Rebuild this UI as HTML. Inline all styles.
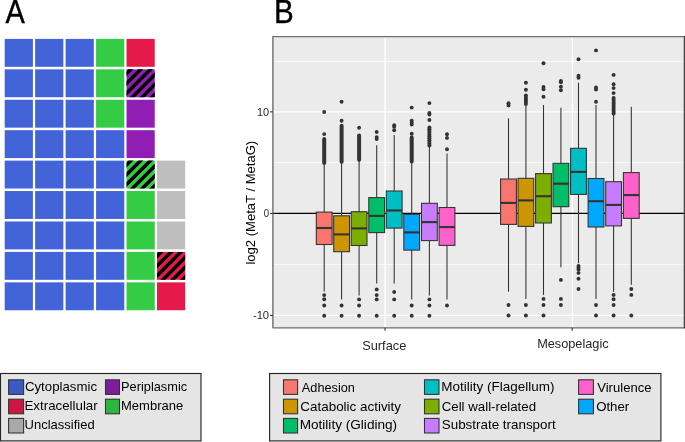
<!DOCTYPE html>
<html><head><meta charset="utf-8"><style>
html,body{margin:0;padding:0;background:#fff;overflow:hidden;width:685px;height:442px;}
svg{display:block;font-family:"Liberation Sans", sans-serif;will-change:transform;}
</style></head><body>
<svg width="685" height="442" viewBox="0 0 685 442">
<rect x="0" y="0" width="685" height="442" fill="#fff"/>
<rect x="4.70" y="38.90" width="28.2" height="27.9" fill="#4363D8"/>
<rect x="35.16" y="38.90" width="28.2" height="27.9" fill="#4363D8"/>
<rect x="65.62" y="38.90" width="28.2" height="27.9" fill="#4363D8"/>
<rect x="96.08" y="38.90" width="28.2" height="27.9" fill="#33CC44"/>
<rect x="126.54" y="38.90" width="28.2" height="27.9" fill="#E6194B"/>
<rect x="4.70" y="69.33" width="28.2" height="27.9" fill="#4363D8"/>
<rect x="35.16" y="69.33" width="28.2" height="27.9" fill="#4363D8"/>
<rect x="65.62" y="69.33" width="28.2" height="27.9" fill="#4363D8"/>
<rect x="96.08" y="69.33" width="28.2" height="27.9" fill="#33CC44"/>
<clipPath id="c4_1"><rect x="126.54" y="69.33" width="28.2" height="27.9"/></clipPath>
<rect x="126.54" y="69.33" width="28.2" height="27.9" fill="#911EB4"/>
<g clip-path="url(#c4_1)">
<polygon points="123.54,64.33 128.54,64.33 83.54,109.33 78.54,109.33" fill="#000"/>
<polygon points="133.34,64.33 138.34,64.33 93.34,109.33 88.34,109.33" fill="#000"/>
<polygon points="143.14,64.33 148.14,64.33 103.14,109.33 98.14,109.33" fill="#000"/>
<polygon points="152.94,64.33 157.94,64.33 112.94,109.33 107.94,109.33" fill="#000"/>
<polygon points="162.74,64.33 167.74,64.33 122.74,109.33 117.74,109.33" fill="#000"/>
<polygon points="172.54,64.33 177.54,64.33 132.54,109.33 127.54,109.33" fill="#000"/>
<polygon points="182.34,64.33 187.34,64.33 142.34,109.33 137.34,109.33" fill="#000"/>
</g>
<rect x="4.70" y="99.76" width="28.2" height="27.9" fill="#4363D8"/>
<rect x="35.16" y="99.76" width="28.2" height="27.9" fill="#4363D8"/>
<rect x="65.62" y="99.76" width="28.2" height="27.9" fill="#4363D8"/>
<rect x="96.08" y="99.76" width="28.2" height="27.9" fill="#33CC44"/>
<rect x="126.54" y="99.76" width="28.2" height="27.9" fill="#911EB4"/>
<rect x="4.70" y="130.19" width="28.2" height="27.9" fill="#4363D8"/>
<rect x="35.16" y="130.19" width="28.2" height="27.9" fill="#4363D8"/>
<rect x="65.62" y="130.19" width="28.2" height="27.9" fill="#4363D8"/>
<rect x="96.08" y="130.19" width="28.2" height="27.9" fill="#4363D8"/>
<rect x="126.54" y="130.19" width="28.2" height="27.9" fill="#911EB4"/>
<rect x="4.70" y="160.62" width="28.2" height="27.9" fill="#4363D8"/>
<rect x="35.16" y="160.62" width="28.2" height="27.9" fill="#4363D8"/>
<rect x="65.62" y="160.62" width="28.2" height="27.9" fill="#4363D8"/>
<rect x="96.08" y="160.62" width="28.2" height="27.9" fill="#4363D8"/>
<clipPath id="c4_4"><rect x="126.54" y="160.62" width="28.2" height="27.9"/></clipPath>
<rect x="126.54" y="160.62" width="28.2" height="27.9" fill="#33CC44"/>
<g clip-path="url(#c4_4)">
<polygon points="123.54,155.62 128.54,155.62 83.54,200.62 78.54,200.62" fill="#000"/>
<polygon points="133.34,155.62 138.34,155.62 93.34,200.62 88.34,200.62" fill="#000"/>
<polygon points="143.14,155.62 148.14,155.62 103.14,200.62 98.14,200.62" fill="#000"/>
<polygon points="152.94,155.62 157.94,155.62 112.94,200.62 107.94,200.62" fill="#000"/>
<polygon points="162.74,155.62 167.74,155.62 122.74,200.62 117.74,200.62" fill="#000"/>
<polygon points="172.54,155.62 177.54,155.62 132.54,200.62 127.54,200.62" fill="#000"/>
<polygon points="182.34,155.62 187.34,155.62 142.34,200.62 137.34,200.62" fill="#000"/>
</g>
<rect x="157.00" y="160.62" width="28.2" height="27.9" fill="#BEBEBE"/>
<rect x="4.70" y="191.05" width="28.2" height="27.9" fill="#4363D8"/>
<rect x="35.16" y="191.05" width="28.2" height="27.9" fill="#4363D8"/>
<rect x="65.62" y="191.05" width="28.2" height="27.9" fill="#4363D8"/>
<rect x="96.08" y="191.05" width="28.2" height="27.9" fill="#4363D8"/>
<rect x="126.54" y="191.05" width="28.2" height="27.9" fill="#33CC44"/>
<rect x="157.00" y="191.05" width="28.2" height="27.9" fill="#BEBEBE"/>
<rect x="4.70" y="221.48" width="28.2" height="27.9" fill="#4363D8"/>
<rect x="35.16" y="221.48" width="28.2" height="27.9" fill="#4363D8"/>
<rect x="65.62" y="221.48" width="28.2" height="27.9" fill="#4363D8"/>
<rect x="96.08" y="221.48" width="28.2" height="27.9" fill="#4363D8"/>
<rect x="126.54" y="221.48" width="28.2" height="27.9" fill="#33CC44"/>
<rect x="157.00" y="221.48" width="28.2" height="27.9" fill="#BEBEBE"/>
<rect x="4.70" y="251.91" width="28.2" height="27.9" fill="#4363D8"/>
<rect x="35.16" y="251.91" width="28.2" height="27.9" fill="#4363D8"/>
<rect x="65.62" y="251.91" width="28.2" height="27.9" fill="#4363D8"/>
<rect x="96.08" y="251.91" width="28.2" height="27.9" fill="#4363D8"/>
<rect x="126.54" y="251.91" width="28.2" height="27.9" fill="#33CC44"/>
<clipPath id="c5_7"><rect x="157.00" y="251.91" width="28.2" height="27.9"/></clipPath>
<rect x="157.00" y="251.91" width="28.2" height="27.9" fill="#E6194B"/>
<g clip-path="url(#c5_7)">
<polygon points="154.00,246.91 159.00,246.91 114.00,291.91 109.00,291.91" fill="#000"/>
<polygon points="163.80,246.91 168.80,246.91 123.80,291.91 118.80,291.91" fill="#000"/>
<polygon points="173.60,246.91 178.60,246.91 133.60,291.91 128.60,291.91" fill="#000"/>
<polygon points="183.40,246.91 188.40,246.91 143.40,291.91 138.40,291.91" fill="#000"/>
<polygon points="193.20,246.91 198.20,246.91 153.20,291.91 148.20,291.91" fill="#000"/>
<polygon points="203.00,246.91 208.00,246.91 163.00,291.91 158.00,291.91" fill="#000"/>
<polygon points="212.80,246.91 217.80,246.91 172.80,291.91 167.80,291.91" fill="#000"/>
</g>
<rect x="4.70" y="282.34" width="28.2" height="27.9" fill="#4363D8"/>
<rect x="35.16" y="282.34" width="28.2" height="27.9" fill="#4363D8"/>
<rect x="65.62" y="282.34" width="28.2" height="27.9" fill="#4363D8"/>
<rect x="96.08" y="282.34" width="28.2" height="27.9" fill="#4363D8"/>
<rect x="126.54" y="282.34" width="28.2" height="27.9" fill="#33CC44"/>
<rect x="157.00" y="282.34" width="28.2" height="27.9" fill="#E6194B"/>
<text x="5.54" y="22.6" font-size="32.3" fill="#000" textLength="19.31" lengthAdjust="spacingAndGlyphs" stroke="#000" stroke-width="0.4">A</text>
<text x="273.98" y="22.6" font-size="32.3" fill="#000" textLength="19.68" lengthAdjust="spacingAndGlyphs" stroke="#000" stroke-width="0.4">B</text>
<rect x="272.9" y="36.6" width="411.5" height="291.25" fill="#EBEBEB"/>
<line x1="272.9" x2="684.4" y1="61.5" y2="61.5" stroke="#fff" stroke-width="0.7"/>
<line x1="272.9" x2="684.4" y1="162.45" y2="162.45" stroke="#fff" stroke-width="0.7"/>
<line x1="272.9" x2="684.4" y1="264.6" y2="264.6" stroke="#fff" stroke-width="0.7"/>
<line x1="272.9" x2="684.4" y1="111.85" y2="111.85" stroke="#fff" stroke-width="1.3"/>
<line x1="272.9" x2="684.4" y1="315.45" y2="315.45" stroke="#fff" stroke-width="1.3"/>
<line x1="385.1" x2="385.1" y1="36.6" y2="327.85" stroke="#fff" stroke-width="1.35"/>
<line x1="572.3" x2="572.3" y1="36.6" y2="327.85" stroke="#fff" stroke-width="1.35"/>
<line x1="272.9" x2="684.4" y1="213.4" y2="213.4" stroke="#000" stroke-width="1.1"/>
<line x1="324.2" x2="324.2" y1="165.0" y2="212.1" stroke="#333333" stroke-width="1.07"/>
<line x1="324.2" x2="324.2" y1="244.5" y2="291.4" stroke="#333333" stroke-width="1.07"/>
<rect x="316.30" y="212.1" width="15.8" height="32.40" fill="#F8766D" stroke="#333333" stroke-width="1.07"/>
<line x1="316.30" x2="332.10" y1="228.0" y2="228.0" stroke="#333333" stroke-width="2.1"/>
<circle cx="324.2" cy="112.0" r="1.95" fill="#333333"/>
<circle cx="324.2" cy="134.1" r="1.95" fill="#333333"/>
<circle cx="324.2" cy="295.1" r="1.95" fill="#333333"/>
<circle cx="324.2" cy="299.2" r="1.95" fill="#333333"/>
<circle cx="324.2" cy="305.5" r="1.95" fill="#333333"/>
<circle cx="324.2" cy="315.7" r="1.95" fill="#333333"/>
<line x1="324.2" x2="324.2" y1="139.0" y2="163.0" stroke="#333333" stroke-width="4.0" stroke-linecap="round"/>
<line x1="341.6" x2="341.6" y1="162.0" y2="215.8" stroke="#333333" stroke-width="1.07"/>
<line x1="341.6" x2="341.6" y1="251.7" y2="299.6" stroke="#333333" stroke-width="1.07"/>
<rect x="333.70" y="215.8" width="15.8" height="35.90" fill="#CD9600" stroke="#333333" stroke-width="1.07"/>
<line x1="333.70" x2="349.50" y1="234.4" y2="234.4" stroke="#333333" stroke-width="2.1"/>
<circle cx="341.6" cy="101.8" r="1.95" fill="#333333"/>
<circle cx="341.6" cy="120.8" r="1.95" fill="#333333"/>
<circle cx="341.6" cy="305.5" r="1.95" fill="#333333"/>
<circle cx="341.6" cy="315.7" r="1.95" fill="#333333"/>
<line x1="341.6" x2="341.6" y1="125.7" y2="161.8" stroke="#333333" stroke-width="4.0" stroke-linecap="round"/>
<line x1="359.1" x2="359.1" y1="160.0" y2="211.7" stroke="#333333" stroke-width="1.07"/>
<line x1="359.1" x2="359.1" y1="245.5" y2="295.4" stroke="#333333" stroke-width="1.07"/>
<rect x="351.20" y="211.7" width="15.8" height="33.80" fill="#7CAE00" stroke="#333333" stroke-width="1.07"/>
<line x1="351.20" x2="367.00" y1="228.4" y2="228.4" stroke="#333333" stroke-width="2.1"/>
<circle cx="359.1" cy="127.8" r="1.95" fill="#333333"/>
<circle cx="359.1" cy="299.4" r="1.95" fill="#333333"/>
<circle cx="359.1" cy="305.5" r="1.95" fill="#333333"/>
<circle cx="359.1" cy="315.7" r="1.95" fill="#333333"/>
<line x1="359.1" x2="359.1" y1="135.4" y2="159.8" stroke="#333333" stroke-width="4.0" stroke-linecap="round"/>
<line x1="376.7" x2="376.7" y1="145.3" y2="197.6" stroke="#333333" stroke-width="1.07"/>
<line x1="376.7" x2="376.7" y1="232.6" y2="283.4" stroke="#333333" stroke-width="1.07"/>
<rect x="368.80" y="197.6" width="15.8" height="35.00" fill="#00BE67" stroke="#333333" stroke-width="1.07"/>
<line x1="368.80" x2="384.60" y1="215.9" y2="215.9" stroke="#333333" stroke-width="2.1"/>
<circle cx="376.7" cy="132.0" r="1.95" fill="#333333"/>
<circle cx="376.7" cy="137.1" r="1.95" fill="#333333"/>
<circle cx="376.7" cy="139.1" r="1.95" fill="#333333"/>
<circle cx="376.7" cy="289.4" r="1.95" fill="#333333"/>
<circle cx="376.7" cy="295.1" r="1.95" fill="#333333"/>
<circle cx="376.7" cy="299.4" r="1.95" fill="#333333"/>
<circle cx="376.7" cy="315.7" r="1.95" fill="#333333"/>
<line x1="394.2" x2="394.2" y1="135.0" y2="191.0" stroke="#333333" stroke-width="1.07"/>
<line x1="394.2" x2="394.2" y1="228.1" y2="283.5" stroke="#333333" stroke-width="1.07"/>
<rect x="386.30" y="191.0" width="15.8" height="37.10" fill="#00BFC4" stroke="#333333" stroke-width="1.07"/>
<line x1="386.30" x2="402.10" y1="210.5" y2="210.5" stroke="#333333" stroke-width="2.1"/>
<circle cx="394.2" cy="125.2" r="1.95" fill="#333333"/>
<circle cx="394.2" cy="126.8" r="1.95" fill="#333333"/>
<circle cx="394.2" cy="130.2" r="1.95" fill="#333333"/>
<circle cx="394.2" cy="292.0" r="1.95" fill="#333333"/>
<circle cx="394.2" cy="299.4" r="1.95" fill="#333333"/>
<circle cx="394.2" cy="315.7" r="1.95" fill="#333333"/>
<line x1="411.7" x2="411.7" y1="161.5" y2="214.3" stroke="#333333" stroke-width="1.07"/>
<line x1="411.7" x2="411.7" y1="250.1" y2="299.6" stroke="#333333" stroke-width="1.07"/>
<rect x="403.80" y="214.3" width="15.8" height="35.80" fill="#00A9FF" stroke="#333333" stroke-width="1.07"/>
<line x1="403.80" x2="419.60" y1="232.4" y2="232.4" stroke="#333333" stroke-width="2.1"/>
<circle cx="411.7" cy="107.6" r="1.95" fill="#333333"/>
<circle cx="411.7" cy="120.6" r="1.95" fill="#333333"/>
<circle cx="411.7" cy="122.6" r="1.95" fill="#333333"/>
<circle cx="411.7" cy="124.6" r="1.95" fill="#333333"/>
<circle cx="411.7" cy="133.7" r="1.95" fill="#333333"/>
<circle cx="411.7" cy="305.5" r="1.95" fill="#333333"/>
<circle cx="411.7" cy="315.7" r="1.95" fill="#333333"/>
<line x1="411.7" x2="411.7" y1="137.6" y2="161.4" stroke="#333333" stroke-width="4.0" stroke-linecap="round"/>
<line x1="429.4" x2="429.4" y1="146.0" y2="203.3" stroke="#333333" stroke-width="1.07"/>
<line x1="429.4" x2="429.4" y1="240.6" y2="295.4" stroke="#333333" stroke-width="1.07"/>
<rect x="421.50" y="203.3" width="15.8" height="37.30" fill="#C77CFF" stroke="#333333" stroke-width="1.07"/>
<line x1="421.50" x2="437.30" y1="222.1" y2="222.1" stroke="#333333" stroke-width="2.1"/>
<circle cx="429.4" cy="103.1" r="1.95" fill="#333333"/>
<circle cx="429.4" cy="113.0" r="1.95" fill="#333333"/>
<circle cx="429.4" cy="114.5" r="1.95" fill="#333333"/>
<circle cx="429.4" cy="120.0" r="1.95" fill="#333333"/>
<circle cx="429.4" cy="299.4" r="1.95" fill="#333333"/>
<circle cx="429.4" cy="305.5" r="1.95" fill="#333333"/>
<circle cx="429.4" cy="315.7" r="1.95" fill="#333333"/>
<circle cx="429.4" cy="127.40" r="2.0" fill="#333333"/>
<circle cx="429.4" cy="129.22" r="2.0" fill="#333333"/>
<circle cx="429.4" cy="131.04" r="2.0" fill="#333333"/>
<circle cx="429.4" cy="132.86" r="2.0" fill="#333333"/>
<circle cx="429.4" cy="134.68" r="2.0" fill="#333333"/>
<circle cx="429.4" cy="136.50" r="2.0" fill="#333333"/>
<circle cx="429.4" cy="138.32" r="2.0" fill="#333333"/>
<circle cx="429.4" cy="140.14" r="2.0" fill="#333333"/>
<circle cx="429.4" cy="141.96" r="2.0" fill="#333333"/>
<circle cx="429.4" cy="143.78" r="2.0" fill="#333333"/>
<circle cx="429.4" cy="145.60" r="2.0" fill="#333333"/>
<line x1="447.0" x2="447.0" y1="153.6" y2="207.5" stroke="#333333" stroke-width="1.07"/>
<line x1="447.0" x2="447.0" y1="245.4" y2="299.6" stroke="#333333" stroke-width="1.07"/>
<rect x="439.10" y="207.5" width="15.8" height="37.90" fill="#FF61CC" stroke="#333333" stroke-width="1.07"/>
<line x1="439.10" x2="454.90" y1="227.1" y2="227.1" stroke="#333333" stroke-width="2.1"/>
<circle cx="447.0" cy="134.2" r="1.95" fill="#333333"/>
<circle cx="447.0" cy="137.9" r="1.95" fill="#333333"/>
<circle cx="447.0" cy="149.3" r="1.95" fill="#333333"/>
<circle cx="447.0" cy="305.5" r="1.95" fill="#333333"/>
<line x1="508.5" x2="508.5" y1="118.3" y2="179.0" stroke="#333333" stroke-width="1.07"/>
<line x1="508.5" x2="508.5" y1="224.4" y2="291.7" stroke="#333333" stroke-width="1.07"/>
<rect x="500.60" y="179.0" width="15.8" height="45.40" fill="#F8766D" stroke="#333333" stroke-width="1.07"/>
<line x1="500.60" x2="516.40" y1="202.9" y2="202.9" stroke="#333333" stroke-width="2.1"/>
<circle cx="508.5" cy="103.2" r="1.95" fill="#333333"/>
<circle cx="508.5" cy="105.4" r="1.95" fill="#333333"/>
<circle cx="508.5" cy="305.0" r="1.95" fill="#333333"/>
<circle cx="508.5" cy="315.5" r="1.95" fill="#333333"/>
<line x1="525.9" x2="525.9" y1="104.0" y2="178.3" stroke="#333333" stroke-width="1.07"/>
<line x1="525.9" x2="525.9" y1="226.4" y2="298.9" stroke="#333333" stroke-width="1.07"/>
<rect x="518.00" y="178.3" width="15.8" height="48.10" fill="#CD9600" stroke="#333333" stroke-width="1.07"/>
<line x1="518.00" x2="533.80" y1="200.4" y2="200.4" stroke="#333333" stroke-width="2.1"/>
<circle cx="525.9" cy="82.8" r="1.95" fill="#333333"/>
<circle cx="525.9" cy="89.8" r="1.95" fill="#333333"/>
<circle cx="525.9" cy="305.0" r="1.95" fill="#333333"/>
<circle cx="525.9" cy="315.5" r="1.95" fill="#333333"/>
<circle cx="525.9" cy="95.60" r="2.0" fill="#333333"/>
<circle cx="525.9" cy="97.67" r="2.0" fill="#333333"/>
<circle cx="525.9" cy="99.75" r="2.0" fill="#333333"/>
<circle cx="525.9" cy="101.83" r="2.0" fill="#333333"/>
<circle cx="525.9" cy="103.90" r="2.0" fill="#333333"/>
<line x1="543.5" x2="543.5" y1="105.0" y2="173.6" stroke="#333333" stroke-width="1.07"/>
<line x1="543.5" x2="543.5" y1="223.0" y2="294.9" stroke="#333333" stroke-width="1.07"/>
<rect x="535.60" y="173.6" width="15.8" height="49.40" fill="#7CAE00" stroke="#333333" stroke-width="1.07"/>
<line x1="535.60" x2="551.40" y1="196.2" y2="196.2" stroke="#333333" stroke-width="2.1"/>
<circle cx="543.5" cy="63.3" r="1.95" fill="#333333"/>
<circle cx="543.5" cy="86.9" r="1.95" fill="#333333"/>
<circle cx="543.5" cy="89.3" r="1.95" fill="#333333"/>
<circle cx="543.5" cy="96.8" r="1.95" fill="#333333"/>
<circle cx="543.5" cy="298.9" r="1.95" fill="#333333"/>
<circle cx="543.5" cy="305.0" r="1.95" fill="#333333"/>
<circle cx="543.5" cy="315.5" r="1.95" fill="#333333"/>
<line x1="560.9" x2="560.9" y1="107.7" y2="163.3" stroke="#333333" stroke-width="1.07"/>
<line x1="560.9" x2="560.9" y1="206.7" y2="267.3" stroke="#333333" stroke-width="1.07"/>
<rect x="553.00" y="163.3" width="15.8" height="43.40" fill="#00BE67" stroke="#333333" stroke-width="1.07"/>
<line x1="553.00" x2="568.80" y1="183.7" y2="183.7" stroke="#333333" stroke-width="2.1"/>
<circle cx="560.9" cy="81.0" r="1.95" fill="#333333"/>
<circle cx="560.9" cy="82.2" r="1.95" fill="#333333"/>
<circle cx="560.9" cy="86.8" r="1.95" fill="#333333"/>
<circle cx="560.9" cy="90.2" r="1.95" fill="#333333"/>
<circle cx="560.9" cy="279.9" r="1.95" fill="#333333"/>
<circle cx="560.9" cy="298.9" r="1.95" fill="#333333"/>
<circle cx="560.9" cy="305.0" r="1.95" fill="#333333"/>
<line x1="578.5" x2="578.5" y1="82.7" y2="148.3" stroke="#333333" stroke-width="1.07"/>
<line x1="578.5" x2="578.5" y1="194.4" y2="263.3" stroke="#333333" stroke-width="1.07"/>
<rect x="570.60" y="148.3" width="15.8" height="46.10" fill="#00BFC4" stroke="#333333" stroke-width="1.07"/>
<line x1="570.60" x2="586.40" y1="171.9" y2="171.9" stroke="#333333" stroke-width="2.1"/>
<circle cx="578.5" cy="59.3" r="1.95" fill="#333333"/>
<circle cx="578.5" cy="75.8" r="1.95" fill="#333333"/>
<circle cx="578.5" cy="77.8" r="1.95" fill="#333333"/>
<circle cx="578.5" cy="265.9" r="1.95" fill="#333333"/>
<circle cx="578.5" cy="267.8" r="1.95" fill="#333333"/>
<circle cx="578.5" cy="269.5" r="1.95" fill="#333333"/>
<circle cx="578.5" cy="272.9" r="1.95" fill="#333333"/>
<circle cx="578.5" cy="278.8" r="1.95" fill="#333333"/>
<circle cx="578.5" cy="289.0" r="1.95" fill="#333333"/>
<line x1="596.0" x2="596.0" y1="105.1" y2="178.5" stroke="#333333" stroke-width="1.07"/>
<line x1="596.0" x2="596.0" y1="227.0" y2="298.9" stroke="#333333" stroke-width="1.07"/>
<rect x="588.10" y="178.5" width="15.8" height="48.50" fill="#00A9FF" stroke="#333333" stroke-width="1.07"/>
<line x1="588.10" x2="603.90" y1="201.2" y2="201.2" stroke="#333333" stroke-width="2.1"/>
<circle cx="596.0" cy="50.4" r="1.95" fill="#333333"/>
<circle cx="596.0" cy="87.5" r="1.95" fill="#333333"/>
<circle cx="596.0" cy="89.5" r="1.95" fill="#333333"/>
<circle cx="596.0" cy="101.7" r="1.95" fill="#333333"/>
<circle cx="596.0" cy="305.0" r="1.95" fill="#333333"/>
<circle cx="596.0" cy="315.5" r="1.95" fill="#333333"/>
<line x1="613.6" x2="613.6" y1="113.0" y2="181.7" stroke="#333333" stroke-width="1.07"/>
<line x1="613.6" x2="613.6" y1="225.9" y2="291.7" stroke="#333333" stroke-width="1.07"/>
<rect x="605.70" y="181.7" width="15.8" height="44.20" fill="#C77CFF" stroke="#333333" stroke-width="1.07"/>
<line x1="605.70" x2="621.50" y1="204.9" y2="204.9" stroke="#333333" stroke-width="2.1"/>
<circle cx="613.6" cy="74.9" r="1.95" fill="#333333"/>
<circle cx="613.6" cy="84.3" r="1.95" fill="#333333"/>
<circle cx="613.6" cy="88.1" r="1.95" fill="#333333"/>
<circle cx="613.6" cy="93.1" r="1.95" fill="#333333"/>
<circle cx="613.6" cy="294.9" r="1.95" fill="#333333"/>
<circle cx="613.6" cy="299.2" r="1.95" fill="#333333"/>
<circle cx="613.6" cy="305.0" r="1.95" fill="#333333"/>
<circle cx="613.6" cy="315.5" r="1.95" fill="#333333"/>
<circle cx="613.6" cy="98.00" r="2.0" fill="#333333"/>
<circle cx="613.6" cy="99.95" r="2.0" fill="#333333"/>
<circle cx="613.6" cy="101.90" r="2.0" fill="#333333"/>
<circle cx="613.6" cy="103.85" r="2.0" fill="#333333"/>
<circle cx="613.6" cy="105.80" r="2.0" fill="#333333"/>
<circle cx="613.6" cy="107.75" r="2.0" fill="#333333"/>
<circle cx="613.6" cy="109.70" r="2.0" fill="#333333"/>
<circle cx="613.6" cy="111.65" r="2.0" fill="#333333"/>
<circle cx="613.6" cy="113.60" r="2.0" fill="#333333"/>
<line x1="631.3" x2="631.3" y1="106.7" y2="172.6" stroke="#333333" stroke-width="1.07"/>
<line x1="631.3" x2="631.3" y1="218.4" y2="284.7" stroke="#333333" stroke-width="1.07"/>
<rect x="623.40" y="172.6" width="15.8" height="45.80" fill="#FF61CC" stroke="#333333" stroke-width="1.07"/>
<line x1="623.40" x2="639.20" y1="195.1" y2="195.1" stroke="#333333" stroke-width="2.1"/>
<circle cx="631.3" cy="289.0" r="1.95" fill="#333333"/>
<circle cx="631.3" cy="294.9" r="1.95" fill="#333333"/>
<circle cx="631.3" cy="315.5" r="1.95" fill="#333333"/>
<path d="M684.4,36.6 H272.9 V327.85 H684.4" fill="none" stroke="#6E6E6E" stroke-width="1.4" stroke-linejoin="round"/>
<line x1="684.4" x2="684.4" y1="35.9" y2="328.55" stroke="#4A4A4A" stroke-width="1.4"/>
<line x1="270.00" x2="272.9" y1="111.85" y2="111.85" stroke="#333333" stroke-width="1.07"/>
<text x="256.97" y="115.8" font-size="10.5" fill="#262626" textLength="12.16" lengthAdjust="spacingAndGlyphs">10</text>
<line x1="270.00" x2="272.9" y1="213.40" y2="213.40" stroke="#333333" stroke-width="1.07"/>
<text x="263.72" y="217.35" font-size="10.5" fill="#262626" textLength="5.35" lengthAdjust="spacingAndGlyphs">0</text>
<line x1="270.00" x2="272.9" y1="315.45" y2="315.45" stroke="#333333" stroke-width="1.07"/>
<text x="252.90" y="319.4" font-size="10.5" fill="#262626" textLength="16.24" lengthAdjust="spacingAndGlyphs">-10</text>
<line x1="385.0" x2="385.0" y1="327.85" y2="330.75" stroke="#333333" stroke-width="1.07"/>
<line x1="572.2" x2="572.2" y1="327.85" y2="330.75" stroke="#333333" stroke-width="1.07"/>
<text x="362.22" y="349.9" font-size="12.4" fill="#262626" textLength="44.05" lengthAdjust="spacingAndGlyphs">Surface</text>
<text x="537.16" y="347.7" font-size="12.4" fill="#262626" textLength="71.48" lengthAdjust="spacingAndGlyphs">Mesopelagic</text>
<text transform="translate(255.2 0) rotate(-90)" x="-264.58" y="0" font-size="12.4" fill="#000" textLength="123.79" lengthAdjust="spacingAndGlyphs">log2 (MetaT / MetaG)</text>
<rect x="0.5" y="373.5" width="200.50" height="67.40" fill="#E5E5E5" stroke="#262626" stroke-width="1.15"/>
<rect x="269.6" y="373.5" width="391.30" height="67.40" fill="#E5E5E5" stroke="#262626" stroke-width="1.15"/>
<rect x="8.6" y="379.8" width="15.00" height="14.60" fill="#3A5AC4" stroke="#333" stroke-width="1.07"/>
<text x="24.93" y="390.6" font-size="12.4" fill="#000" textLength="72.12" lengthAdjust="spacingAndGlyphs">Cytoplasmic</text>
<rect x="8.6" y="399.2" width="15.00" height="14.60" fill="#CD1643" stroke="#333" stroke-width="1.07"/>
<text x="24.51" y="410.1" font-size="12.4" fill="#000" textLength="73.21" lengthAdjust="spacingAndGlyphs">Extracellular</text>
<rect x="8.6" y="418.4" width="15.00" height="14.60" fill="#A9A9A9" stroke="#333" stroke-width="1.07"/>
<text x="24.60" y="429.1" font-size="12.4" fill="#000" textLength="70.14" lengthAdjust="spacingAndGlyphs">Unclassified</text>
<rect x="105.5" y="379.8" width="14.00" height="14.60" fill="#811BA0" stroke="#333" stroke-width="1.07"/>
<text x="121.05" y="390.5" font-size="12.4" fill="#000" textLength="66.09" lengthAdjust="spacingAndGlyphs">Periplasmic</text>
<rect x="105.5" y="399.2" width="14.00" height="14.60" fill="#2DB63D" stroke="#333" stroke-width="1.07"/>
<text x="121.03" y="409.9" font-size="12.4" fill="#000" textLength="62.25" lengthAdjust="spacingAndGlyphs">Membrane</text>
<rect x="283.5" y="379.8" width="14.10" height="14.60" fill="#F8766D" stroke="#333" stroke-width="1.07"/>
<text x="301.88" y="391.8" font-size="12.4" fill="#000" textLength="52.95" lengthAdjust="spacingAndGlyphs">Adhesion</text>
<rect x="283.5" y="399.2" width="14.10" height="14.60" fill="#CD9600" stroke="#333" stroke-width="1.07"/>
<text x="300.32" y="410.5" font-size="12.4" fill="#000" textLength="100.71" lengthAdjust="spacingAndGlyphs">Catabolic activity</text>
<rect x="283.5" y="418.4" width="14.10" height="14.60" fill="#00BE67" stroke="#333" stroke-width="1.07"/>
<text x="299.68" y="428.9" font-size="12.4" fill="#000" textLength="97.46" lengthAdjust="spacingAndGlyphs">Motility (Gliding)</text>
<rect x="424.5" y="379.8" width="14.50" height="14.60" fill="#00BFC4" stroke="#333" stroke-width="1.07"/>
<text x="441.29" y="391.1" font-size="12.4" fill="#000" textLength="113.14" lengthAdjust="spacingAndGlyphs">Motility (Flagellum)</text>
<rect x="424.5" y="399.2" width="14.50" height="14.60" fill="#7CAE00" stroke="#333" stroke-width="1.07"/>
<text x="441.73" y="411.0" font-size="12.4" fill="#000" textLength="94.33" lengthAdjust="spacingAndGlyphs">Cell wall-related</text>
<rect x="424.5" y="418.4" width="14.50" height="14.60" fill="#C77CFF" stroke="#333" stroke-width="1.07"/>
<text x="441.79" y="428.9" font-size="12.4" fill="#000" textLength="113.91" lengthAdjust="spacingAndGlyphs">Substrate transport</text>
<rect x="578.6" y="379.8" width="14.80" height="14.60" fill="#FF61CC" stroke="#333" stroke-width="1.07"/>
<text x="597.24" y="391.6" font-size="12.4" fill="#000" textLength="54.24" lengthAdjust="spacingAndGlyphs">Virulence</text>
<rect x="578.6" y="399.2" width="14.80" height="14.60" fill="#00A9FF" stroke="#333" stroke-width="1.07"/>
<text x="596.17" y="410.8" font-size="12.4" fill="#000" textLength="33.05" lengthAdjust="spacingAndGlyphs">Other</text>
</svg>
</body></html>
